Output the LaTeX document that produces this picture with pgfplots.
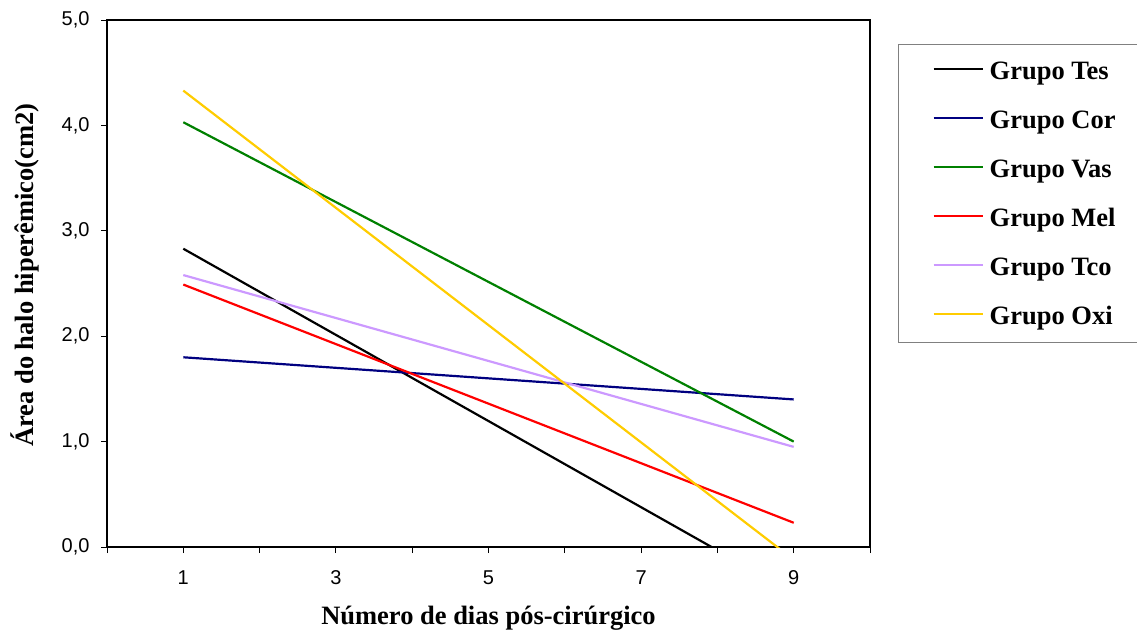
\documentclass[border=0pt]{standalone}
\usepackage{fontspec}
\setmainfont{Liberation Serif}
\newfontfamily\arial{Liberation Sans}
\usepackage{pgfplots}
\pgfplotsset{compat=1.18}
\definecolor{cTes}{RGB}{0,0,0}
\definecolor{cCor}{RGB}{0,0,128}
\definecolor{cVas}{RGB}{0,128,0}
\definecolor{cMel}{RGB}{255,0,0}
\definecolor{cTco}{RGB}{204,153,255}
\definecolor{cOxi}{RGB}{255,204,0}
\begin{document}
\begin{tikzpicture}
\begin{axis}[
  at={(0bp,0bp)}, anchor=origin,
  scale only axis,
  width=763bp, height=527bp,
  xmin=0, xmax=10, ymin=0, ymax=5,
  xtick={0,1,...,10},
  xticklabels={,1,,3,,5,,7,,9,},
  ytick={0,1,...,5},
  xtick pos=bottom, ytick pos=left,
  tick align=outside,
  major tick length=6bp,
  every tick/.style={black, line width=1pt},
  axis line style={line width=1.6pt},
  /pgf/number format/.cd, fixed, fixed zerofill, precision=1, use comma, assume math mode=true,
  /pgfplots/.cd,
  tick label style={font=\arial\fontsize{20bp}{24bp}\selectfont},
  xticklabel style={yshift=-14bp},
  yticklabel style={xshift=-8bp},
  xlabel={Número de dias pós-cirúrgico},
  ylabel={Área do halo hiperêmico(cm2)},
  label style={font=\fontsize{26.5bp}{30bp}\selectfont\bfseries},
  xlabel style={at={(axis description cs:0.5,0)}, anchor=center, yshift=-71bp},
  ylabel style={at={(axis description cs:0,0.516)}, anchor=center, yshift=82bp},
  legend style={at={(axis description cs:1.0367,0.9545)}, anchor=north west,
    draw=gray, line width=1pt,
    font=\fontsize{26.5bp}{30bp}\selectfont\bfseries,
    inner xsep=34bp, inner ysep=12bp,
    row sep=20bp, column sep=6bp,
    nodes={inner sep=0pt, text height=23bp, text depth=6bp}},
  legend cell align=left,
  legend image code/.code={\draw[#1, line width=2.2pt] (0bp,2bp) -- (49bp,2bp);},
  every axis plot/.append style={line width=2.2pt},
]
\addplot[cTes] coordinates {(1,2.83) (9,-0.44)};
\addlegendentry{Grupo Tes}
\addplot[cCor] coordinates {(1,1.80) (9,1.40)};
\addlegendentry{Grupo Cor}
\addplot[cVas] coordinates {(1,4.03) (9,1.00)};
\addlegendentry{Grupo Vas}
\addplot[cMel] coordinates {(1,2.49) (9,0.23)};
\addlegendentry{Grupo Mel}
\addplot[cTco] coordinates {(1,2.58) (9,0.95)};
\addlegendentry{Grupo Tco}
\addplot[cOxi] coordinates {(1,4.33) (9,-0.12)};
\addlegendentry{Grupo Oxi}
\end{axis}
\pgfresetboundingbox
\useasboundingbox (-107bp,-90bp) rectangle (1030bp,547bp);
\end{tikzpicture}
\end{document}
